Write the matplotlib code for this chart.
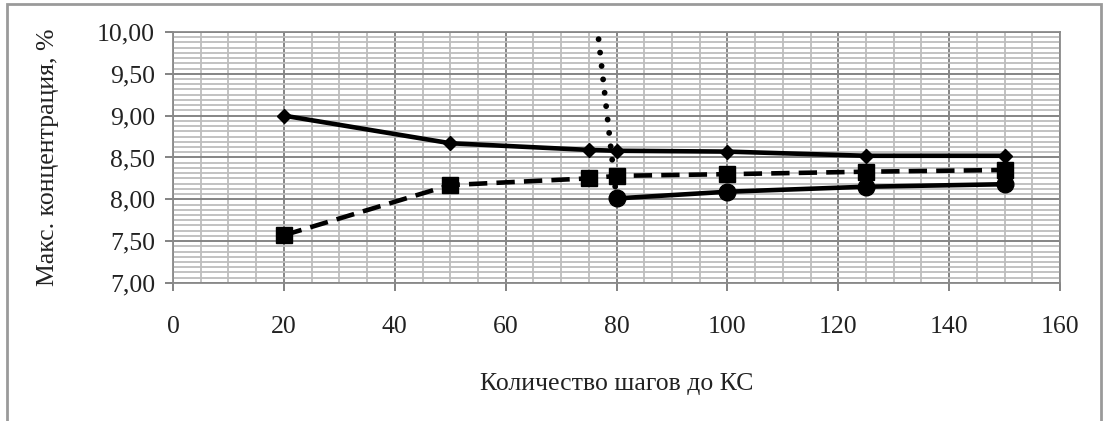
import matplotlib
matplotlib.use('Agg')
import matplotlib.pyplot as plt
from matplotlib.ticker import MultipleLocator, FuncFormatter
from matplotlib.patches import Rectangle

plt.rcParams['font.family'] = ['Liberation Serif', 'DejaVu Serif']

# data
x1 = [20, 50, 75, 80, 100, 125, 150]
y1 = [9.00, 8.67, 8.59, 8.58, 8.57, 8.52, 8.52]
x2 = [20, 50, 75, 80, 100, 125, 150]
y2 = [7.57, 8.17, 8.25, 8.28, 8.30, 8.33, 8.35]
x3 = [80, 100, 125, 150]
y3 = [8.01, 8.09, 8.15, 8.18]
x4 = [75, 80]
y4 = [10.95, 8.01]

fig = plt.figure(figsize=(11.05, 4.21), dpi=100)
ax = fig.add_axes([0.1566, 0.328, 0.8027, 0.596])

ax.plot(x4, y4, color='black', linestyle=(0, (0.01, 2.3)), linewidth=4.2,
        dash_capstyle='round', zorder=5)
ax.plot(x1, y1, color='black', linewidth=3.3, marker='D', markersize=7, zorder=4)
ax.plot(x2, y2, color='black', linewidth=3.3, linestyle=(0, (4, 2)),
        marker='s', markersize=11, zorder=4)
ax.plot(x3, y3, color='black', linewidth=3.3, marker='o', markersize=12, zorder=4)

ax.set_xlim(0, 160)
ax.set_ylim(7, 10)
ax.xaxis.set_major_locator(MultipleLocator(20))
ax.xaxis.set_minor_locator(MultipleLocator(5))
ax.yaxis.set_major_locator(MultipleLocator(0.5))
ax.yaxis.set_minor_locator(MultipleLocator(0.0625))
ax.yaxis.set_major_formatter(FuncFormatter(lambda v, p: f'{v:.2f}'.replace('.', ',')))

ax.grid(True, which='major', color='#858585', linewidth=1.4)
ax.grid(True, which='minor', color='#bdbdbd', linewidth=1.3)
ax.set_axisbelow(True)
for s in ax.spines.values():
    s.set_color('#8a8a8a')
    s.set_linewidth(1.3)
ax.tick_params(which='major', length=6, width=1.3, color='#7a7a7a', labelsize=18.5,
               labelcolor='#222222')
ax.tick_params(which='minor', length=0)
ax.tick_params(axis='x', pad=18)
ax.tick_params(axis='y', pad=7)

ax.set_xlabel('Количество шагов до КС', fontsize=18.5, labelpad=25, color='#222222')
ax.set_ylabel('Макс. концентрация, %', fontsize=18.5, labelpad=27, color='#222222')

# outer chart frame
fig.patches.append(Rectangle((0.006, -0.01), 0.99, 1.0, transform=fig.transFigure,
                             fill=False, edgecolor='#9a9a9a', linewidth=2))

fig.savefig('out.png', dpi=100)
